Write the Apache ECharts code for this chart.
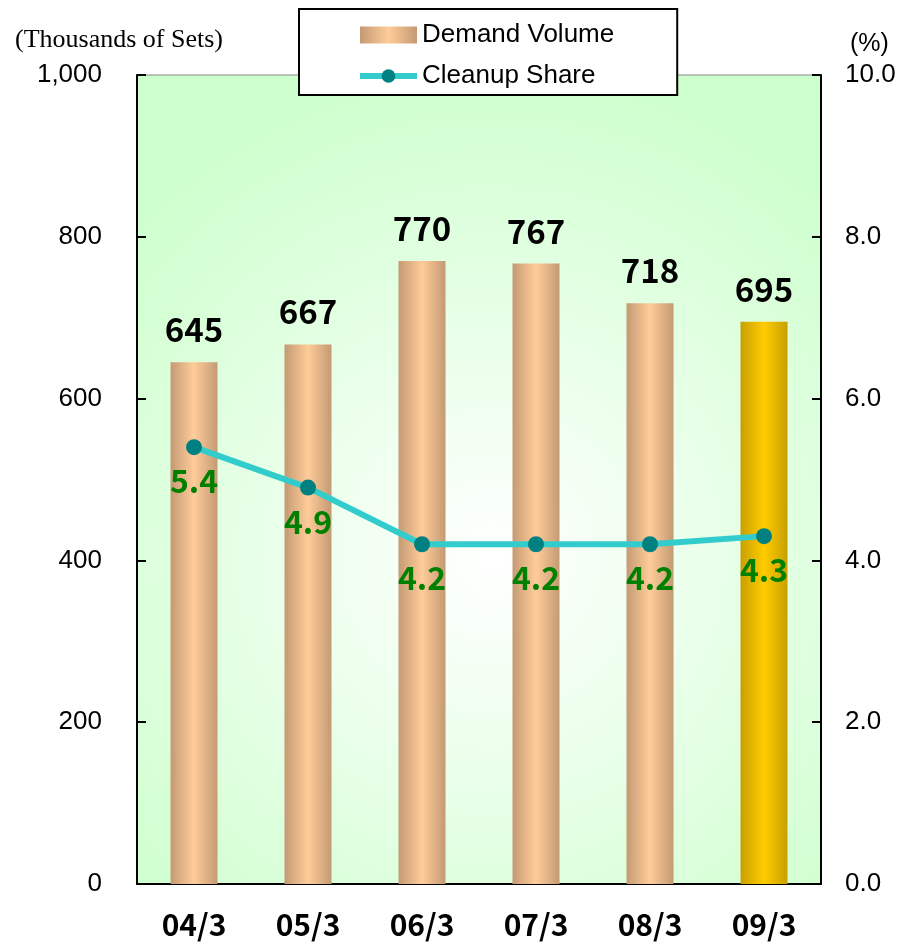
<!DOCTYPE html>
<html>
<head>
<meta charset="utf-8">
<script src="https://cdn.jsdelivr.net/npm/echarts@6/dist/echarts.min.js"></script>
<style>
  html, body { margin: 0; padding: 0; background: #ffffff; }
  #chart { width: 899px; height: 943px; }
</style>
</head>
<body>
<div id="chart"></div>
<script>
// Fiscal year-end periods
const periods = ['04/3', '05/3', '06/3', '07/3', '08/3', '09/3'];
// Demand volume, thousands of sets
const demandVolume = [645, 667, 770, 767, 718, 695];
// Cleanup share, percent
const cleanupShare = [5.4, 4.9, 4.2, 4.2, 4.2, 4.3];
// Left and right axis ranges
const volumeAxis = { min: 0, max: 1000, interval: 200 };
const shareAxis = { min: 0, max: 10, interval: 2 };
const highlightIndex = 5;

const jpFont = '"Noto Sans CJK JP", "Liberation Sans", sans-serif';
const sansFont = '"Liberation Sans", Arial, sans-serif';

function hGradient(edge, mid) {
  return new echarts.graphic.LinearGradient(0, 0, 1, 0, [
    { offset: 0, color: edge },
    { offset: 0.5, color: mid },
    { offset: 1, color: edge }
  ]);
}

const barData = demandVolume.map((v, i) => i === highlightIndex
  ? { value: v, itemStyle: { color: hGradient('#c89f00', '#ffcc00') } }
  : v);

const chart = echarts.init(document.getElementById('chart'));
chart.setOption({
  animation: false,
  grid: {
    left: 137, right: 78, top: 75, bottom: 59,
    show: true,
    borderColor: '#888888',
    borderWidth: 1,
    backgroundColor: new echarts.graphic.RadialGradient(0.52, 0.6, 0.75, [
      { offset: 0, color: '#ffffff' },
      { offset: 1, color: '#ccffcc' }
    ])
  },
  legend: {
    orient: 'vertical',
    left: 299, top: 9,
    backgroundColor: '#ffffff',
    borderColor: '#000000',
    borderWidth: 2,
    borderRadius: 0,
    padding: [13, 63, 6, 58],
    itemWidth: 57,
    itemHeight: 17,
    itemGap: 15,
    itemTextGap: 9,
    lineStyle: { width: 6 },
    textStyle: { fontFamily: sansFont, fontSize: 26, color: '#000000', lineHeight: 26 },
    data: [
      { name: 'Demand Volume', icon: 'rect' },
      { name: 'Cleanup Share' }
    ]
  },
  graphic: [
    { type: 'text', left: 15, top: 27,
      style: { text: '(Thousands of Sets)', font: '26px "Liberation Serif", serif', fill: '#000' } },
    { type: 'text', left: 850, top: 32,
      style: { text: '(%)', font: '25px "Liberation Sans", Arial, sans-serif', fill: '#000' } }
  ],
  xAxis: {
    type: 'category',
    data: periods,
    boundaryGap: true,
    axisLine: { lineStyle: { color: '#000', width: 2 } },
    axisTick: { inside: true, length: 10, lineStyle: { color: '#000', width: 2 } },
    axisLabel: { fontFamily: jpFont, fontWeight: 'bold', fontSize: 30, color: '#000', margin: 26 }
  },
  yAxis: [
    {
      type: 'value',
      min: volumeAxis.min, max: volumeAxis.max, interval: volumeAxis.interval,
      axisLine: { show: true, lineStyle: { color: '#000', width: 2 } },
      axisTick: { show: true, inside: true, length: 9, lineStyle: { color: '#000', width: 2 } },
      splitLine: { show: false },
      axisLabel: {
        fontFamily: sansFont, fontSize: 26, color: '#000', margin: 35,
        formatter: v => v.toLocaleString('en-US')
      }
    },
    {
      type: 'value',
      min: shareAxis.min, max: shareAxis.max, interval: shareAxis.interval,
      position: 'right',
      axisLine: { show: true, lineStyle: { color: '#000', width: 2 } },
      axisTick: { show: true, inside: true, length: 9, lineStyle: { color: '#000', width: 2 } },
      splitLine: { show: false },
      axisLabel: {
        fontFamily: sansFont, fontSize: 26, color: '#000', margin: 24,
        formatter: v => v.toFixed(1)
      }
    }
  ],
  series: [
    {
      name: 'Demand Volume',
      type: 'bar',
      yAxisIndex: 0,
      barWidth: 47,
      data: barData,
      itemStyle: { color: hGradient('#c49a74', '#ffcc99') },
      label: {
        show: true, position: 'top', distance: 16,
        fontFamily: jpFont, fontWeight: 'bold', fontSize: 33, color: '#000'
      }
    },
    {
      name: 'Cleanup Share',
      type: 'line',
      yAxisIndex: 1,
      data: cleanupShare,
      symbol: 'circle',
      symbolSize: 16,
      lineStyle: { color: '#33cccc', width: 6 },
      itemStyle: { color: '#008080' },
      label: {
        show: true, position: 'bottom', distance: 10,
        fontFamily: jpFont, fontWeight: 'bold', fontSize: 32, color: '#008000',
        formatter: p => p.value.toFixed(1)
      },
      z: 5
    }
  ]
});
</script>
</body>
</html>
